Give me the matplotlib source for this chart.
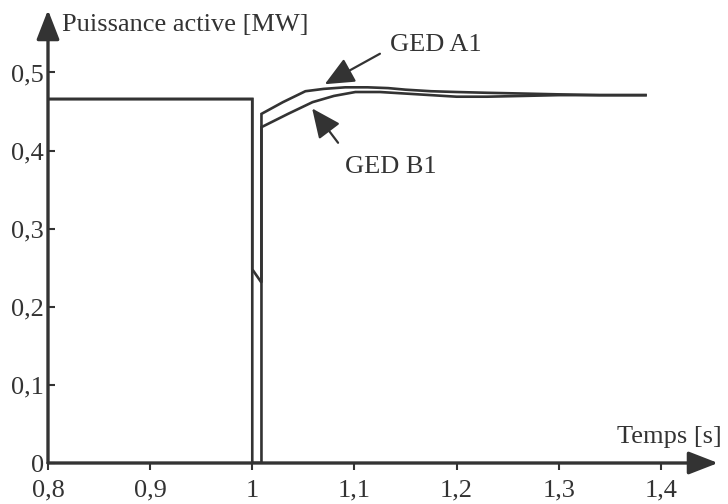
import matplotlib
matplotlib.use("Agg")
import matplotlib.pyplot as plt

plt.rcParams['font.family'] = ['Liberation Serif', 'DejaVu Serif']

# GED A1 : active power [MW] vs time [s]
t_a1 = [0.8, 1.0, 1.0, 1.009, 1.009, 1.03, 1.052, 1.07, 1.091, 1.113, 1.133,
        1.15, 1.175, 1.2, 1.23, 1.266, 1.3, 1.34, 1.385]
p_a1 = [0.466, 0.466, 0.0, 0.0, 0.447, 0.462, 0.476, 0.479, 0.481, 0.481, 0.480,
        0.478, 0.476, 0.475, 0.474, 0.473, 0.472, 0.471, 0.471]

# GED B1
t_b1 = [0.8, 1.0, 1.0, 1.009, 1.009, 1.035, 1.059, 1.08, 1.101, 1.125, 1.15,
        1.175, 1.2, 1.23, 1.266, 1.3, 1.34, 1.385]
p_b1 = [0.466, 0.466, 0.248, 0.231, 0.430, 0.447, 0.462, 0.470, 0.475, 0.475, 0.473,
        0.471, 0.469, 0.469, 0.470, 0.471, 0.471, 0.471]

xticks = [0.8, 0.9, 1.0, 1.1, 1.2, 1.3, 1.4]
xlabels = ["0,8", "0,9", "1", "1,1", "1,2", "1,3", "1,4"]
yticks = [0.0, 0.1, 0.2, 0.3, 0.4, 0.5]
ylabels = ["0", "0,1", "0,2", "0,3", "0,4", "0,5"]

ink = "#333333"
fs = 19

fig = plt.figure(figsize=(7.28, 5.04), dpi=100)
ax = fig.add_axes([48 / 728, 41 / 504, 670 / 728, 453 / 504])
ax.set_xlim(0.8, 1.456)
ax.set_ylim(0, 0.58)

ax.plot(t_a1, p_a1, color=ink, lw=1.9, solid_joinstyle="miter")
ax.plot(t_b1, p_b1, color=ink, lw=1.9, solid_joinstyle="miter")

for s in ax.spines.values():
    s.set_visible(False)

# axes with arrow heads
arr = dict(arrowstyle="-|>,head_length=0.9,head_width=0.35", color=ink, lw=2.4,
           mutation_scale=20, shrinkA=0, shrinkB=0)
ax.annotate("", xy=(1.456, 0), xytext=(0.8, 0), arrowprops=arr, annotation_clip=False)
ax.annotate("", xy=(0.8, 0.58), xytext=(0.8, 0), arrowprops=arr, annotation_clip=False)

ax.set_xticks(xticks)
ax.set_xticklabels(xlabels)
ax.set_yticks(yticks)
ax.set_yticklabels(ylabels)
ax.tick_params(axis="x", direction="out", length=5, width=1.5, color=ink,
               labelsize=fs, labelcolor=ink, pad=7)
ax.tick_params(axis="y", direction="in", length=5, width=1.5, color=ink,
               labelsize=fs, labelcolor=ink, pad=3)

fig.text(62 / 728, 1 - 25 / 504, "Puissance active [MW]", fontsize=fs, color=ink,
         ha="left", va="center")
fig.text(722 / 728, 1 - 437 / 504, "Temps [s]", fontsize=fs, color=ink,
         ha="right", va="center")

head = dict(arrowstyle="-|>,head_length=1.0,head_width=0.45", color=ink, lw=1.6,
            mutation_scale=18, shrinkA=0, shrinkB=0)
ax.annotate("", xy=(1.071, 0.485), xytext=(1.125, 0.524), arrowprops=head)
ax.text(1.135, 0.535, "GED A1", fontsize=fs, color=ink, ha="left", va="center")
ax.annotate("", xy=(1.0586, 0.454), xytext=(1.084, 0.410), arrowprops=head)
ax.text(1.091, 0.379, "GED B1", fontsize=fs, color=ink, ha="left", va="center")

fig.savefig("out.png", dpi=100, facecolor="white")
